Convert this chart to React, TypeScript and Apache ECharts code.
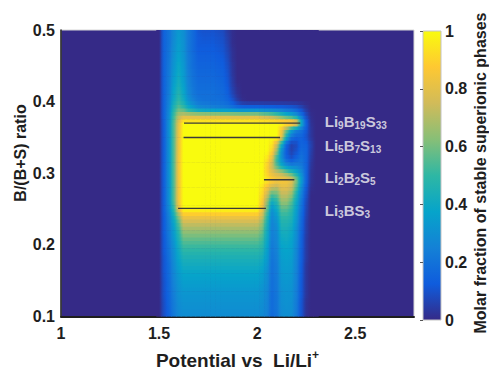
import React, { useEffect, useRef } from "react";
import * as echarts from "echarts";

// ---------- data ----------
// Potential (V vs Li/Li+) column centres of the map
const potentialColumns = [
  1.5, 1.525, 1.55, 1.575, 1.6, 1.625, 1.65, 1.675, 1.7, 1.725, 1.75,
  1.775, 1.8, 1.825, 1.85, 1.875, 1.9, 1.925, 1.95, 1.975, 2.0, 2.025,
  2.05, 2.075, 2.1, 2.125, 2.15, 2.175, 2.2, 2.225, 2.25, 2.275, 2.3,
];
// B/(B+S) ratio row centres (top to bottom)
const ratioRows = [
  0.5, 0.49, 0.48, 0.47, 0.46, 0.45, 0.44, 0.43, 0.42, 0.41, 0.4, 0.39,
  0.38, 0.37, 0.36, 0.35, 0.34, 0.33, 0.32, 0.31, 0.3, 0.29, 0.28, 0.27,
  0.26, 0.25, 0.24, 0.23, 0.22, 0.21, 0.2, 0.19, 0.18, 0.17, 0.16, 0.15,
  0.14, 0.13, 0.12, 0.11, 0.1,
];
// Molar fraction of stable superionic phases, in percent (row = ratio, column = potential)
const fractionPercent = [
  [0,15,20,28,33,30,22,17,11,10,10,10,9,8,4,1,0,0,0,0,0,0,0,0,0,0,0,0,0,0,0,0,0],
  [0,15,20,28,34,30,22,17,12,11,11,11,10,9,5,1,0,0,0,0,0,0,0,0,0,0,0,0,0,0,0,0,0],
  [0,15,20,29,35,31,22,17,12,12,12,12,11,10,6,1,0,0,0,0,0,0,0,0,0,0,0,0,0,0,0,0,0],
  [0,15,21,30,36,31,22,17,13,13,13,13,12,11,7,2,0,0,0,0,0,0,0,0,0,0,0,0,0,0,0,0,0],
  [0,15,21,31,37,32,23,18,14,14,14,14,13,12,8,2,0,0,0,0,0,0,0,0,0,0,0,0,0,0,0,0,0],
  [0,15,22,32,39,33,23,18,15,15,15,15,14,13,9,3,0,0,0,0,0,0,0,0,0,0,0,0,0,0,0,0,0],
  [0,15,22,33,40,34,24,19,16,16,16,16,15,14,10,3,0,0,0,0,0,0,0,0,0,0,0,0,0,0,0,0,0],
  [0,15,23,35,42,35,25,20,17,17,17,17,16,15,11,4,0,0,0,0,0,0,0,0,0,0,0,0,0,0,0,0,0],
  [0,15,23,37,44,37,26,21,18,18,18,18,17,16,12,5,1,0,0,0,0,0,0,0,0,0,0,0,0,0,0,0,0],
  [0,15,24,39,47,39,28,22,19,19,19,19,18,17,14,7,2,0,0,0,0,0,0,0,0,0,0,0,0,0,0,0,0],
  [0,15,25,41,50,42,31,25,21,20,20,19,19,18,16,11,5,1,0,0,0,0,0,0,0,0,0,0,0,0,0,0,0],
  [0,15,27,47,57,52,42,36,30,28,27,26,25,24,23,21,19,18,18,18,18,18,17,17,16,16,15,14,12,8,3,0,0],
  [0,15,28,52,70,74,74,74,74,74,74,74,74,74,74,74,74,74,74,74,74,70,68,65,60,52,45,40,32,20,8,1,0],
  [0,14,30,55,80,100,100,100,100,100,100,100,100,100,100,100,100,100,100,100,100,100,100,100,100,100,100,100,90,45,15,2,0],
  [0,14,30,55,82,100,100,100,100,100,100,100,100,100,100,100,100,100,100,100,100,100,100,100,100,85,60,38,25,20,12,3,0],
  [0,14,30,55,83,100,100,100,100,100,100,100,100,100,100,100,100,100,100,100,100,100,100,100,100,80,42,20,15,15,10,3,0],
  [0,14,30,55,84,100,100,100,100,100,100,100,100,100,100,100,100,100,100,100,100,100,100,95,75,42,15,6,8,15,14,6,0],
  [0,14,30,55,84,100,100,100,100,100,100,100,100,100,100,100,100,100,100,100,100,100,100,90,65,30,12,6,10,17,15,5,0],
  [0,14,30,55,85,100,100,100,100,100,100,100,100,100,100,100,100,100,100,100,100,100,95,80,50,30,15,10,15,20,15,4,0],
  [0,14,30,55,85,100,100,100,100,100,100,100,100,100,100,100,100,100,100,100,100,100,90,75,55,40,30,25,25,22,15,3,0],
  [0,14,30,55,85,100,100,100,100,100,100,100,100,100,100,100,100,100,100,100,100,100,90,80,75,70,62,52,42,30,15,2,0],
  [0,14,30,55,85,100,100,100,100,100,100,100,100,100,100,100,100,100,100,100,100,100,95,90,86,86,85,80,62,36,15,2,0],
  [0,14,30,55,85,100,100,100,100,100,100,100,100,100,100,100,100,100,100,100,100,95,85,75,72,80,80,75,55,30,12,1,0],
  [0,14,30,55,85,100,100,100,100,100,100,100,100,100,100,100,100,100,100,100,100,92,75,55,58,72,72,65,45,25,10,0,0],
  [0,14,30,55,85,100,100,100,100,100,100,100,100,100,100,100,100,100,100,100,100,88,65,42,48,65,65,56,40,22,8,0,0],
  [0,14,28,50,82,100,100,100,100,100,100,100,100,100,100,100,100,100,100,100,100,85,58,32,40,56,56,50,36,20,7,0,0],
  [0,13,25,42,65,85,85,85,85,85,85,85,85,85,85,85,85,85,85,85,85,75,50,28,34,50,50,46,34,18,6,0,0],
  [0,13,24,38,55,74,74,74,74,74,74,74,74,74,74,74,74,74,74,74,74,66,45,26,30,46,46,43,32,17,5,0,0],
  [0,13,23,35,50,66,66,66,66,66,66,66,66,66,66,66,66,66,66,66,66,60,42,25,28,43,43,40,30,16,5,0,0],
  [0,12,22,33,46,59,59,59,59,59,59,59,59,59,59,59,59,59,59,59,59,54,40,24,27,40,41,38,29,15,4,0,0],
  [0,12,21,31,43,53,53,53,53,53,53,53,53,53,53,53,53,53,53,53,53,50,38,23,26,38,39,37,28,15,4,0,0],
  [0,12,20,30,40,48,48,48,48,48,48,48,48,48,48,48,48,48,48,48,48,46,36,22,25,36,37,36,27,14,4,0,0],
  [0,11,19,29,38,44,44,44,44,44,44,44,44,44,44,44,44,44,44,44,44,42,34,21,24,35,36,35,26,14,4,0,0],
  [0,11,18,28,36,41,41,41,41,41,41,41,41,41,41,41,41,41,41,41,41,39,32,20,23,34,35,34,26,13,3,0,0],
  [0,11,18,27,34,38,38,38,38,38,38,38,38,38,38,38,38,38,38,38,38,36,30,20,23,33,34,33,25,13,3,0,0],
  [0,10,17,26,32,36,36,36,36,36,36,36,36,36,36,36,36,36,36,36,36,34,29,19,22,32,33,32,25,12,3,0,0],
  [0,10,17,25,31,34,34,34,34,34,34,34,34,34,34,34,34,34,34,34,34,32,28,19,22,31,32,31,24,12,3,0,0],
  [0,10,16,24,30,32,32,32,32,32,32,32,32,32,32,32,32,32,32,32,32,31,27,18,21,30,31,31,24,12,3,0,0],
  [0,9,16,23,29,31,31,31,31,31,31,31,31,31,31,31,31,31,31,31,31,30,26,18,21,30,31,30,23,11,2,0,0],
  [0,9,15,23,28,30,30,30,30,30,30,30,30,30,30,30,30,30,30,30,30,29,26,18,21,29,30,30,23,11,2,0,0],
  [0,9,15,22,28,29,29,29,29,29,29,29,29,29,29,29,29,29,29,29,29,28,25,17,20,29,30,29,22,11,2,0,0],
];

// Stable phase lines
const phaseNames = [
  "{m|Li}{s|9}{m|B}{s|19}{m|S}{s|33}",
  "{m|Li}{s|5}{m|B}{s|7}{m|S}{s|13}",
  "{m|Li}{s|2}{m|B}{s|2}{m|S}{s|5}",
  "{m|Li}{s|3}{m|BS}{s|3}",
];
const phaseRatio = [0.37, 0.35, 0.291, 0.251];
const phaseStart = [1.627, 1.625, 2.035, 1.597];
const phaseEnd = [2.22, 2.117, 2.19, 2.045];
const labelRatio = [0.372, 0.339, 0.294, 0.248];
const labelPotential = 2.34;

// ---------- style ----------
const FONT = "'Liberation Sans', Arial, Helvetica, sans-serif";
const TEXT = "#1e1e1e";
const parula = [
  "#352a87", "#0f5cdd", "#1481d6", "#06a4ca", "#2eb7a4",
  "#87bf77", "#d1bb59", "#fec832", "#f9fb0e",
];
const cellW = 0.025;
const cellH = 0.01;

const PLOT = { left: 61, top: 30, width: 353, height: 291 };
const CBAR = { left: 423, top: 31, width: 18, height: 289 };

const parulaRGB = parula.map((h) => [
  parseInt(h.slice(1, 3), 16),
  parseInt(h.slice(3, 5), 16),
  parseInt(h.slice(5, 7), 16),
]);
function colorAt(v: number): string {
  const t = Math.max(0, Math.min(1, v)) * (parulaRGB.length - 1);
  const i = Math.min(parulaRGB.length - 2, Math.floor(t));
  const f = t - i;
  const a = parulaRGB[i];
  const b = parulaRGB[i + 1];
  const c = [0, 1, 2].map((k) => Math.round(a[k] + (b[k] - a[k]) * f));
  return `rgb(${c[0]},${c[1]},${c[2]})`;
}

// value of grid cell (0 outside the recorded columns, edge row repeated vertically)
function cellValue(ri: number, ci: number): number {
  const r = Math.max(0, Math.min(fractionPercent.length - 1, ri));
  if (ci < 0 || ci >= potentialColumns.length) return 0;
  return fractionPercent[r][ci] / 100;
}

export default function App() {
  const ref = useRef<HTMLDivElement>(null);

  useEffect(() => {
    if (!ref.current) return;
    const chart = echarts.init(ref.current, null, { renderer: "svg" });

    const nCols = potentialColumns.length;
    const heatData: number[][] = [];
    ratioRows.forEach((r, ri) => {
      potentialColumns.forEach((p, ci) => {
        heatData.push([p, r, fractionPercent[ri][ci] / 100]);
      });
    });

    const gradStops = parula.map((c, i) => ({ offset: i / (parula.length - 1), color: c }));

    const lineSeries = phaseNames.map((_, i) => ({
      type: "line",
      xAxisIndex: 0,
      yAxisIndex: 0,
      data: [
        [phaseStart[i], phaseRatio[i]],
        [phaseEnd[i], phaseRatio[i]],
      ],
      symbol: "none",
      silent: true,
      lineStyle: { color: "#3a3a3a", width: 1.4 },
      z: 5,
    }));

    // shading of one half of a cell: blend toward the vertical neighbour, gradient across
    const halfValue = (ri: number, ci: number, dr: number) =>
      0.75 * cellValue(ri, ci) + 0.25 * cellValue(ri + dr, ci);

    const option: any = {
      animation: false,
      backgroundColor: "#ffffff",
      grid: [
        {
          ...PLOT,
          show: true,
          backgroundColor: parula[0],
          borderColor: "#d6d6d6",
          borderWidth: 1,
        },
        { ...CBAR },
      ],
      xAxis: [
        {
          type: "value",
          gridIndex: 0,
          min: 1,
          max: 2.8,
          interval: 0.5,
          axisLine: { show: true, onZero: false, lineStyle: { color: TEXT, width: 2 } },
          axisTick: { show: false },
          splitLine: { show: false },
          axisLabel: {
            showMaxLabel: false,
            color: TEXT,
            fontSize: 16,
            fontWeight: "bold",
            fontFamily: FONT,
            margin: 9,
          },
          name: "{m|Potential vs  Li/Li}{p|+}",
          nameLocation: "middle",
          nameGap: 32,
          nameTextStyle: {
            rich: {
              m: { fontSize: 19, fontWeight: "bold", fontFamily: FONT, color: TEXT, lineHeight: 24 },
              p: { fontSize: 12, fontWeight: "bold", fontFamily: FONT, color: TEXT, lineHeight: 12, verticalAlign: "top" },
            },
          },
        },
        { type: "value", gridIndex: 1, min: 0, max: 1, show: false },
      ],
      yAxis: [
        {
          type: "value",
          gridIndex: 0,
          min: 0.1,
          max: 0.5,
          interval: 0.1,
          axisLine: { show: true, onZero: false, lineStyle: { color: TEXT, width: 1.5 } },
          axisTick: { show: false },
          splitLine: { show: false },
          axisLabel: {
            color: TEXT,
            fontSize: 16,
            fontWeight: "bold",
            fontFamily: FONT,
            margin: 6,
          },
        },
        {
          type: "value",
          gridIndex: 1,
          min: 0,
          max: 1,
          interval: 0.2,
          position: "right",
          z: 10,
          axisLine: { show: false },
          axisTick: { show: true, inside: true, length: 3, lineStyle: { color: "#555" } },
          splitLine: { show: false },
          axisLabel: {
            color: TEXT,
            fontSize: 16,
            fontWeight: "bold",
            fontFamily: FONT,
            margin: 4,
          },
        },
      ],
      graphic: [
        {
          type: "rect",
          z: -1,
          shape: { x: CBAR.left, y: CBAR.top, width: CBAR.width, height: CBAR.height },
          style: {
            fill: new echarts.graphic.LinearGradient(0, 1, 0, 0, gradStops),
            stroke: "#c4c4c4",
            lineWidth: 1,
          },
        },
        {
          type: "text",
          x: 20,
          y: 153,
          rotation: Math.PI / 2,
          style: {
            text: "B/(B+S) ratio",
            font: `bold 16px ${FONT}`,
            fill: TEXT,
            align: "center",
            verticalAlign: "middle",
          },
        },
        {
          type: "text",
          x: 480,
          y: 173,
          rotation: Math.PI / 2,
          style: {
            text: "Molar fraction of stable superionic phases",
            font: `bold 16px ${FONT}`,
            fill: TEXT,
            align: "center",
            verticalAlign: "middle",
          },
        },
      ],
      series: [
        {
          type: "custom",
          xAxisIndex: 0,
          yAxisIndex: 0,
          clip: true,
          silent: true,
          data: heatData,
          encode: { x: 0, y: 1 },
          renderItem: (params: any, api: any) => {
            const idx = params.dataIndex;
            const ri = Math.floor(idx / nCols);
            const ci = idx % nCols;
            const x = api.value(0);
            const y = api.value(1);
            const p0 = api.coord([x - cellW / 2, y + cellH / 2]);
            const p1 = api.coord([x + cellW / 2, y - cellH / 2]);
            const w = p1[0] - p0[0];
            const h = (p1[1] - p0[1]) / 2;
            const halves = [-1, 1].map((dr, k) => {
              const v = halfValue(ri, ci, dr);
              const vl = halfValue(ri, ci - 1, dr);
              const vr = halfValue(ri, ci + 1, dr);
              return {
                type: "rect",
                shape: {
                  x: p0[0] - 0.3,
                  y: p0[1] + k * h - 0.3,
                  width: w + 0.6,
                  height: h + 0.6,
                },
                style: {
                  fill: new echarts.graphic.LinearGradient(0, 0, 1, 0, [
                    { offset: 0, color: colorAt((v + vl) / 2) },
                    { offset: 0.5, color: colorAt(v) },
                    { offset: 1, color: colorAt((v + vr) / 2) },
                  ]),
                  stroke: null,
                },
              };
            });
            return { type: "group", children: halves };
          },
        },
        ...lineSeries,
        {
          type: "scatter",
          xAxisIndex: 0,
          yAxisIndex: 0,
          symbolSize: 0,
          silent: true,
          z: 6,
          data: phaseNames.map((n, i) => ({ name: n, value: [labelPotential, labelRatio[i]] })),
          label: {
            show: true,
            position: "right",
            distance: 1,
            formatter: "{b}",
            rich: {
              m: { fontSize: 15, fontWeight: "bold", fontFamily: FONT, color: "#f4f4f4", lineHeight: 18 },
              s: { fontSize: 10, fontWeight: "bold", fontFamily: FONT, color: "#f4f4f4", lineHeight: 10, verticalAlign: "bottom" },
            },
          },
        },
      ],
    };

    chart.setOption(option);
    return () => chart.dispose();
  }, []);

  return (
    <div
      ref={ref}
      style={{ position: "fixed", left: 0, top: 0, width: 489, height: 375 }}
    />
  );
}
